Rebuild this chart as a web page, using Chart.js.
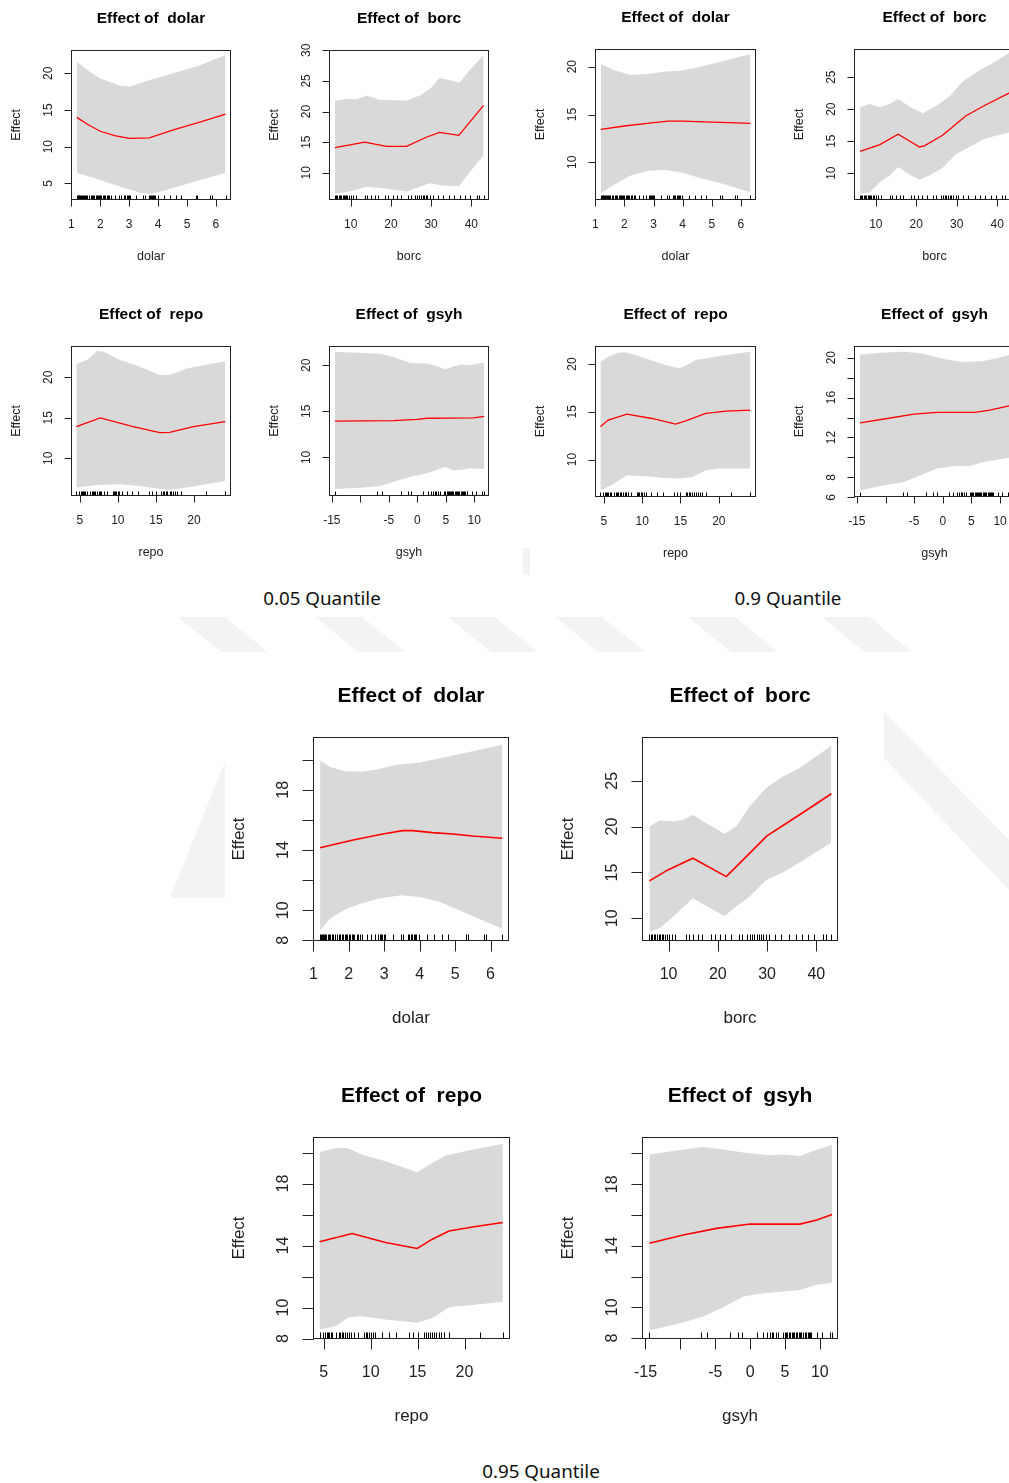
<!DOCTYPE html>
<html>
<head>
<meta charset="utf-8">
<script src="https://cdn.jsdelivr.net/npm/chart.js@4.4.1/dist/chart.umd.min.js"></script>
<style>
  body { margin: 0; background: #fff; }
  #page { position: relative; width: 1009px; height: 1483px; overflow: hidden; background: #fff; }
  #page canvas, #page svg { position: absolute; left: 0; top: 0; }
  .q { position: absolute; font: 18.8px "Noto Sans", sans-serif; color: #111; transform: translate(-50%, -50%); white-space: nowrap; }
</style>
</head>
<body>
<div id="page">
  <!-- faint watermark behind the plots -->
  <svg width="1009" height="1483">
    <g fill="#f3f3f3">
      <polygon points="178,617 225,617 268,652 221,652"/>
      <polygon points="315,617 362,617 405,652 358,652"/>
      <polygon points="448,617 495,617 538,652 491,652"/>
      <polygon points="555,617 602,617 645,652 598,652"/>
      <polygon points="688,617 735,617 778,652 731,652"/>
      <polygon points="822,617 869,617 912,652 865,652"/>
      <polygon points="225,762 225,898 170,898"/>
      <polygon points="884,712 884,758 1009,890 1009,840"/>
      <rect x="523" y="548" width="7" height="27"/>
    </g>
  </svg>
  <div class="q" style="left:322px; top:598px">0.05 Quantile</div>
  <div class="q" style="left:788px; top:598px">0.9 Quantile</div>
  <div class="q" style="left:541px; top:1471px">0.95 Quantile</div>
</div>
<script>
// rug marks (observed values of each regressor)
var dolarRug = [1.19,1.22,1.25,1.28,1.31,1.34,1.37,1.40,1.44,1.48,1.52,1.56,1.60,1.68,1.72,1.76,1.80,1.84,
  1.88,1.92,1.96,2.00,2.04,2.08,2.12,2.16,2.22,2.27,2.32,2.36,2.50,2.64,2.73,2.83,2.87,2.91,2.95,2.99,3.03,
  3.24,3.48,3.54,3.67,3.71,3.75,3.79,3.83,3.87,3.90,3.99,4.22,4.41,4.63,4.79,5.30,5.35,5.81,5.86,6.33];
var borcRug = [6.1,6.4,6.7,7.0,7.3,7.6,8.0,8.3,8.6,8.9,9.2,9.6,10.1,10.6,11.3,13.6,14.1,15.0,16.0,16.8,18.6,
  19.4,20.5,21.4,22.6,24.2,24.9,26.0,26.5,27.0,27.4,27.9,28.3,28.7,29.1,29.8,30.4,31.6,32.9,34.4,35.8,37.1,
  38.4,39.6,41.3,42.0,43.05];
var repoRug = [4.55,4.9,5.1,5.3,5.45,5.6,5.75,5.9,6.3,6.6,6.75,6.9,7.05,7.3,7.5,7.7,7.85,8.2,8.6,9.3,9.45,9.6,
  9.8,10.0,10.2,10.5,11.2,11.9,12.7,14.1,14.5,15.0,15.7,15.9,16.1,16.3,16.5,16.8,17.0,17.3,17.5,17.8,18.3,
  21.6,24.09];
var gsyhRug = [-14.45,-7.0,-6.25,-2.9,-1.7,-1.1,1.0,1.8,2.4,2.85,3.1,3.35,3.7,4.05,4.75,4.95,5.15,5.35,5.55,
  5.75,5.95,6.15,6.35,6.55,6.75,6.95,7.15,7.35,7.6,7.85,8.05,8.25,8.45,8.65,8.8,9.55,10.25,11.45,11.7];

// x axis ticks
var dolarTicks = [1, 2, 3, 4, 5, 6];
var borcTicks = [10, 20, 30, 40];
var repoTicks = [5, 10, 15, 20];
var gsyhTicks = [-15, -10, -5, 0, 5, 10];
var gsyhLabels = ['-15', '', '-5', '0', '5', '10'];

// 0.05 quantile
var d05Fit = [[1.19,14.0],[1.6,12.95],[2.0,12.1],[2.5,11.5],[3.0,11.12],[3.7,11.2],[4.5,12.25],[5.5,13.4],[6.33,14.45]];
var d05Hi = [[1.19,21.6],[1.6,20.3],[2.0,19.3],[2.69,18.3],[3.03,18.2],[3.72,19.1],[4.53,20.0],[5.45,21.1],[6.33,22.5]];
var d05Lo = [[1.19,6.45],[2.0,5.45],[2.69,4.55],[3.38,3.73],[3.72,3.55],[4.07,3.86],[4.87,4.77],[5.68,5.68],[6.33,6.45]];
var b05Fit = [[6.1,14.1],[13.5,15.0],[18.9,14.3],[23.9,14.3],[28.8,15.8],[32.1,16.6],[36.9,16.1],[43.05,21.0]];
var b05Hi = [[6.1,21.7],[9.0,22.1],[11.5,22.0],[14.0,22.6],[17.3,21.9],[23.9,21.8],[27.2,22.6],[29.7,23.7],[32.1,25.5],[37.1,24.7],[39.2,26.5],[43.05,29.2]];
var b05Lo = [[6.1,6.57],[9.0,6.84],[12.3,7.4],[14.0,7.7],[18.9,7.4],[23.9,6.95],[27.2,7.7],[29.7,8.3],[32.6,7.9],[36.9,7.8],[39.6,10.1],[43.05,12.8]];
var r05Fit = [[4.55,13.91],[7.7,15.0],[12.0,13.91],[15.5,13.17],[16.8,13.21],[19.9,13.91],[24.09,14.53]];
var r05Hi = [[4.55,21.65],[5.96,22.14],[7.26,23.25],[8.13,23.17],[10.3,22.14],[12.9,21.32],[15.52,20.29],[16.83,20.29],[19.0,21.1],[24.09,22.0]];
var r05Lo = [[4.55,6.4],[7.26,6.7],[10.3,6.8],[12.9,6.6],[15.52,6.2],[16.83,6.1],[19.0,6.4],[24.09,7.2]];
var g05Fit = [[-14.45,13.94],[-4.2,14.0],[0,14.12],[1.7,14.25],[9.9,14.3],[11.75,14.45]];
var g05Hi = [[-14.45,21.44],[-10,21.37],[-6.5,21.26],[-4.17,20.9],[-1.2,20.25],[1.7,20.18],[3.44,19.93],[4.9,19.57],[6.08,19.82],[7.54,20.07],[9.3,20.0],[11.75,20.29]];
var g05Lo = [[-14.45,6.57],[-10,6.71],[-6.5,6.9],[-4.17,7.36],[-1.2,7.9],[1.7,8.27],[3.44,8.63],[4.9,8.99],[6.08,8.63],[7.54,8.63],[9.3,8.81],[11.75,8.74]];

// 0.9 quantile
var d90Fit = [[1.19,13.45],[2.0,13.8],[3.0,14.15],[3.5,14.3],[4.0,14.3],[4.5,14.25],[5.0,14.2],[5.6,14.15],[6.33,14.07]];
var d90Hi = [[1.19,20.28],[1.63,19.65],[2.2,19.13],[2.78,19.23],[3.36,19.48],[3.93,19.58],[4.62,20.0],[5.31,20.52],[6.33,21.32]];
var d90Lo = [[1.19,6.76],[1.63,7.63],[2.2,8.6],[2.78,9.09],[3.36,9.2],[3.93,8.95],[4.62,8.33],[5.31,7.8],[6.33,6.86]];
var b90Fit = [[6.1,13.41],[11.0,14.46],[15.5,16.09],[20.8,14.09],[22.0,14.25],[26.5,15.93],[32.2,18.92],[37.1,20.65],[43.05,22.55]];
var b90Hi = [[6.1,20.28],[8.5,20.8],[11.0,20.28],[13.4,20.8],[15.5,21.6],[18.3,20.4],[21.6,19.34],[24.9,20.49],[28.2,21.96],[31.4,24.3],[35.5,26.05],[39.6,27.46],[43.05,28.85]];
var b90Lo = [[6.1,6.75],[8.5,7.0],[11.0,8.6],[13.4,9.6],[15.5,10.95],[18.3,9.8],[20.8,8.95],[23.2,9.64],[26.5,10.84],[29.8,12.94],[33.1,14.1],[37.1,15.4],[43.05,16.4]];
var r90Fit = [[4.55,13.43],[5.57,14.13],[8.0,14.76],[11.3,14.3],[14.36,13.71],[15.68,14.06],[18.3,14.83],[20.95,15.07],[24.09,15.17]];
var r90Hi = [[4.55,20.24],[5.57,20.77],[6.9,21.22],[8.0,21.22],[10.4,20.6],[13.0,19.9],[14.8,19.55],[15.68,19.83],[17.0,20.42],[20.08,20.84],[24.09,21.29]];
var r90Lo = [[4.55,6.78],[6.0,7.3],[8.0,8.36],[10.4,8.25],[13.0,8.08],[14.8,8.01],[16.56,8.18],[18.3,8.88],[20.08,9.06],[24.09,9.06]];
var g90Fit = [[-14.45,13.47],[-9.68,13.9],[-5.06,14.34],[-1.0,14.51],[5.6,14.51],[8.2,14.74],[11.75,15.2]];
var g90Hi = [[-14.45,20.33],[-10.8,20.5],[-6.8,20.6],[-3.9,20.44],[-0.46,19.93],[3.0,19.6],[4.77,19.6],[7.05,19.67],[9.4,19.93],[11.75,20.3]];
var g90Lo = [[-14.45,6.7],[-10.8,7.14],[-6.8,7.54],[-3.9,8.2],[-1.0,8.88],[2.46,9.15],[4.77,9.15],[7.05,9.55],[11.75,9.98]];

// 0.95 quantile
var d95Fit = [[1.19,14.16],[2.12,14.67],[2.96,15.07],[3.52,15.29],[3.8,15.29],[4.36,15.16],[4.93,15.07],[5.49,14.93],[6.33,14.78]];
var d95Hi = [[1.19,19.96],[1.47,19.51],[1.93,19.22],[2.4,19.22],[2.87,19.38],[3.34,19.67],[4.0,19.82],[4.74,20.18],[5.49,20.56],[6.33,21.0]];
var d95Lo = [[1.19,8.67],[1.47,9.44],[1.93,10.11],[2.4,10.49],[2.87,10.78],[3.48,11.0],[4.0,10.89],[4.55,10.56],[5.11,10.0],[5.77,9.33],[6.33,8.78]];
var b95Fit = [[6.1,14.08],[9.86,15.28],[14.94,16.55],[21.71,14.55],[23.74,15.64],[29.97,18.99],[36.6,21.29],[43.05,23.58]];
var b95Hi = [[6.1,20.01],[8.17,20.67],[10.88,20.56],[12.9,20.74],[14.94,21.29],[17.65,20.38],[21.37,19.21],[23.74,20.01],[26.45,22.2],[29.8,24.2],[33.2,25.47],[36.6,26.38],[43.05,28.82]];
var b95Lo = [[6.1,8.55],[8.17,8.91],[10.88,10.18],[14.94,12.19],[17.65,11.35],[21.37,10.26],[23.74,11.28],[26.45,12.37],[29.8,14.19],[33.2,14.99],[36.6,16.08],[43.05,18.27]];
var r95Fit = [[4.55,14.24],[8.02,14.77],[11.58,14.19],[14.96,13.81],[16.57,14.41],[18.35,14.94],[20.84,15.2],[24.09,15.48]];
var r95Hi = [[4.55,20.01],[6.25,20.29],[7.5,20.29],[9.1,19.86],[11.58,19.43],[14.96,18.73],[16.57,19.33],[18.0,19.8],[20.84,20.18],[24.09,20.57]];
var r95Lo = [[4.55,8.59],[6.25,8.8],[7.67,9.38],[9.1,9.44],[11.58,9.23],[14.96,9.02],[16.57,9.32],[18.35,10.02],[20.84,10.17],[24.09,10.38]];
var g95Fit = [[-14.45,14.16],[-9.6,14.7],[-4.8,15.13],[0,15.41],[7.15,15.41],[9.55,15.67],[11.75,16.03]];
var g95Hi = [[-14.45,19.94],[-11.98,20.1],[-9.6,20.25],[-6.7,20.42],[-3.85,20.25],[-0.5,20.03],[2.85,19.88],[4.76,19.94],[7.15,19.84],[9.07,20.16],[11.75,20.57]];
var g95Lo = [[-14.45,8.5],[-11.98,8.76],[-9.6,9.02],[-6.7,9.4],[-3.85,10.0],[-0.98,10.7],[1.9,10.92],[4.76,11.02],[7.15,11.13],[9.55,11.46],[11.75,11.6]];

var vars = {
  dolar: { range: [0.99, 6.52], ticks: dolarTicks, labels: null, rug: dolarRug },
  borc:  { range: [4.6, 44.4], ticks: borcTicks, labels: null, rug: borcRug },
  repo:  { range: [3.85, 24.85], ticks: repoTicks, labels: null, rug: repoRug },
  gsyh:  { range: [-15.5, 12.6], ticks: gsyhTicks, labels: gsyhLabels, rug: gsyhRug }
};

var even = [8, 10, 12, 14, 16, 18, 20];
var evenLab = ['8', '10', '', '14', '', '18', ''];

// box = left, top, width, height of the plot frame on the page
var panels = [
  { box: [71, 50, 160, 150],  v: 'dolar', y: [2.73, 23.18], yt: [5, 10, 15, 20], fit: d05Fit, hi: d05Hi, lo: d05Lo },
  { box: [329, 50, 160, 150], v: 'borc',  y: [5.55, 30.05], yt: [10, 15, 20, 25, 30], fit: b05Fit, hi: b05Hi, lo: b05Lo },
  { box: [595, 49, 161, 151], v: 'dolar', y: [6.06, 21.85], yt: [10, 15, 20], fit: d90Fit, hi: d90Hi, lo: d90Lo },
  { box: [854, 49, 161, 151], v: 'borc',  y: [5.8, 29.4], yt: [10, 15, 20, 25], fit: b90Fit, hi: b90Hi, lo: b90Lo },
  { box: [71, 346, 160, 150], v: 'repo',  y: [5.35, 23.87], yt: [10, 15, 20], fit: r05Fit, hi: r05Hi, lo: r05Lo },
  { box: [329, 346, 160, 150], v: 'gsyh', y: [5.81, 22.09], yt: [10, 15, 20], fit: g05Fit, hi: g05Hi, lo: g05Lo },
  { box: [595, 346, 161, 151], v: 'repo', y: [6.08, 21.89], yt: [10, 15, 20], fit: r90Fit, hi: r90Hi, lo: r90Lo },
  { box: [854, 346, 161, 151], v: 'gsyh', y: [6.03, 21.17], yt: [6, 8, 10, 12, 14, 16, 18, 20],
    yl: ['6', '8', '', '12', '', '16', '', '20'], fit: g90Fit, hi: g90Hi, lo: g90Lo },
  { box: [313, 737, 196, 204], big: true, v: 'dolar', y: [7.96, 21.51], yt: even, yl: evenLab, fit: d95Fit, hi: d95Hi, lo: d95Lo },
  { box: [642, 737, 196, 204], big: true, v: 'borc', y: [7.53, 29.77], yt: [10, 15, 20, 25], fit: b95Fit, hi: b95Hi, lo: b95Lo },
  { box: [313, 1137, 197, 202], big: true, v: 'repo', y: [7.97, 21.0], yt: even, yl: evenLab, fit: r95Fit, hi: r95Hi, lo: r95Lo },
  { box: [642, 1137, 196, 202], big: true, v: 'gsyh', y: [7.94, 21.07], yt: even, yl: evenLab, fit: g95Fit, hi: g95Hi, lo: g95Lo }
];

var SMALL = { title: 15.5, tick: 12, lab: 12.5, tl: 7, rug: 4, mainOff: 32, xlOff: 25, xtOff: 57, ylOff: 23, ytOff: 55, pad: [80, 45, 15, 70] };
var BIG = { title: 21, tick: 16, lab: 17, tl: 11, rug: 6, mainOff: 41, xlOff: 34, xtOff: 78, ylOff: 30, ytOff: 74, pad: [100, 60, 15, 95] };

function pts(a) { return a.map(function (p) { return { x: p[0], y: p[1] }; }); }

// R style frame, axes, rug and titles
var rPlot = {
  id: 'rPlot',
  afterDatasetsDraw: function (chart, args, o) {
    var ctx = chart.ctx, a = chart.chartArea, xs = chart.scales.x, ys = chart.scales.y;
    var S = o.big ? BIG : SMALL, V = vars[o.v];
    var L = Math.round(a.left) + 0.5, R = Math.round(a.right) - 0.5;
    var T = Math.round(a.top) + 0.5, B = Math.round(a.bottom) - 0.5;
    ctx.save();
    ctx.lineWidth = 1;
    ctx.strokeStyle = '#000';
    ctx.beginPath();
    V.rug.forEach(function (v) {
      var px = Math.round(xs.getPixelForValue(v)) + 0.5;
      ctx.moveTo(px, B); ctx.lineTo(px, B - S.rug);
    });
    ctx.stroke();

    ctx.strokeStyle = '#222';
    ctx.strokeRect(L, T, R - L, B - T);

    // x axis
    ctx.beginPath();
    var x0 = Math.round(xs.getPixelForValue(V.ticks[0])) + 0.5;
    var x1 = Math.round(xs.getPixelForValue(V.ticks[V.ticks.length - 1])) + 0.5;
    ctx.moveTo(x0, B); ctx.lineTo(x1, B);
    V.ticks.forEach(function (v) {
      var px = Math.round(xs.getPixelForValue(v)) + 0.5;
      ctx.moveTo(px, B); ctx.lineTo(px, B + S.tl);
    });
    // y axis
    var y0 = Math.round(ys.getPixelForValue(o.yt[0])) + 0.5;
    var y1 = Math.round(ys.getPixelForValue(o.yt[o.yt.length - 1])) + 0.5;
    ctx.moveTo(L, y0); ctx.lineTo(L, y1);
    o.yt.forEach(function (v) {
      var py = Math.round(ys.getPixelForValue(v)) + 0.5;
      ctx.moveTo(L, py); ctx.lineTo(L - S.tl, py);
    });
    ctx.stroke();

    ctx.fillStyle = '#222';
    ctx.textAlign = 'center';
    ctx.textBaseline = 'middle';
    ctx.font = S.tick + 'px "Liberation Sans", Arial, sans-serif';
    V.ticks.forEach(function (v, i) {
      var lab = V.labels ? V.labels[i] : String(v);
      ctx.fillText(lab, xs.getPixelForValue(v), B + S.xlOff);
    });
    o.yt.forEach(function (v, i) {
      var lab = o.yl ? o.yl[i] : String(v);
      ctx.save();
      ctx.translate(L - S.ylOff, ys.getPixelForValue(v));
      ctx.rotate(-Math.PI / 2);
      ctx.fillText(lab, 0, 0);
      ctx.restore();
    });
    ctx.font = S.lab + 'px "Liberation Sans", Arial, sans-serif';
    ctx.fillText(o.v, (L + R) / 2, B + S.xtOff);
    ctx.save();
    ctx.translate(L - S.ytOff, (T + B) / 2);
    ctx.rotate(-Math.PI / 2);
    ctx.fillText('Effect', 0, 0);
    ctx.restore();

    ctx.fillStyle = '#000';
    ctx.font = 'bold ' + S.title + 'px "Liberation Sans", Arial, sans-serif';
    ctx.fillText('Effect of  ' + o.v, (L + R) / 2, T - S.mainOff);
    ctx.restore();
  }
};

var page = document.getElementById('page');
panels.forEach(function (p) {
  var S = p.big ? BIG : SMALL, V = vars[p.v];
  var cv = document.createElement('canvas');
  var w = p.box[2] + S.pad[0] + S.pad[2], h = p.box[3] + S.pad[1] + S.pad[3];
  cv.width = w; cv.height = h;
  cv.style.left = (p.box[0] - S.pad[0]) + 'px';
  cv.style.top = (p.box[1] - S.pad[1]) + 'px';
  page.appendChild(cv);
  new Chart(cv, {
    type: 'line',
    data: {
      // fit first so that it is painted on top of the band
      datasets: [
        { data: pts(p.fit), fill: false, borderColor: '#ff0000', borderWidth: p.big ? 1.6 : 1.3, pointRadius: 0 },
        { data: pts(p.hi), fill: '+1', backgroundColor: '#d9d9d9', borderWidth: 0, pointRadius: 0 },
        { data: pts(p.lo), fill: false, borderWidth: 0, pointRadius: 0 }
      ]
    },
    options: {
      responsive: false,
      animation: false,
      devicePixelRatio: 1,
      layout: { padding: { left: S.pad[0], top: S.pad[1], right: S.pad[2], bottom: S.pad[3] } },
      scales: {
        x: { type: 'linear', min: V.range[0], max: V.range[1], display: false },
        y: { type: 'linear', min: p.y[0], max: p.y[1], display: false }
      },
      plugins: {
        legend: { display: false },
        tooltip: { enabled: false },
        rPlot: { v: p.v, big: !!p.big, yt: p.yt, yl: p.yl }
      }
    },
    plugins: [rPlot]
  });
});
</script>
</body>
</html>
